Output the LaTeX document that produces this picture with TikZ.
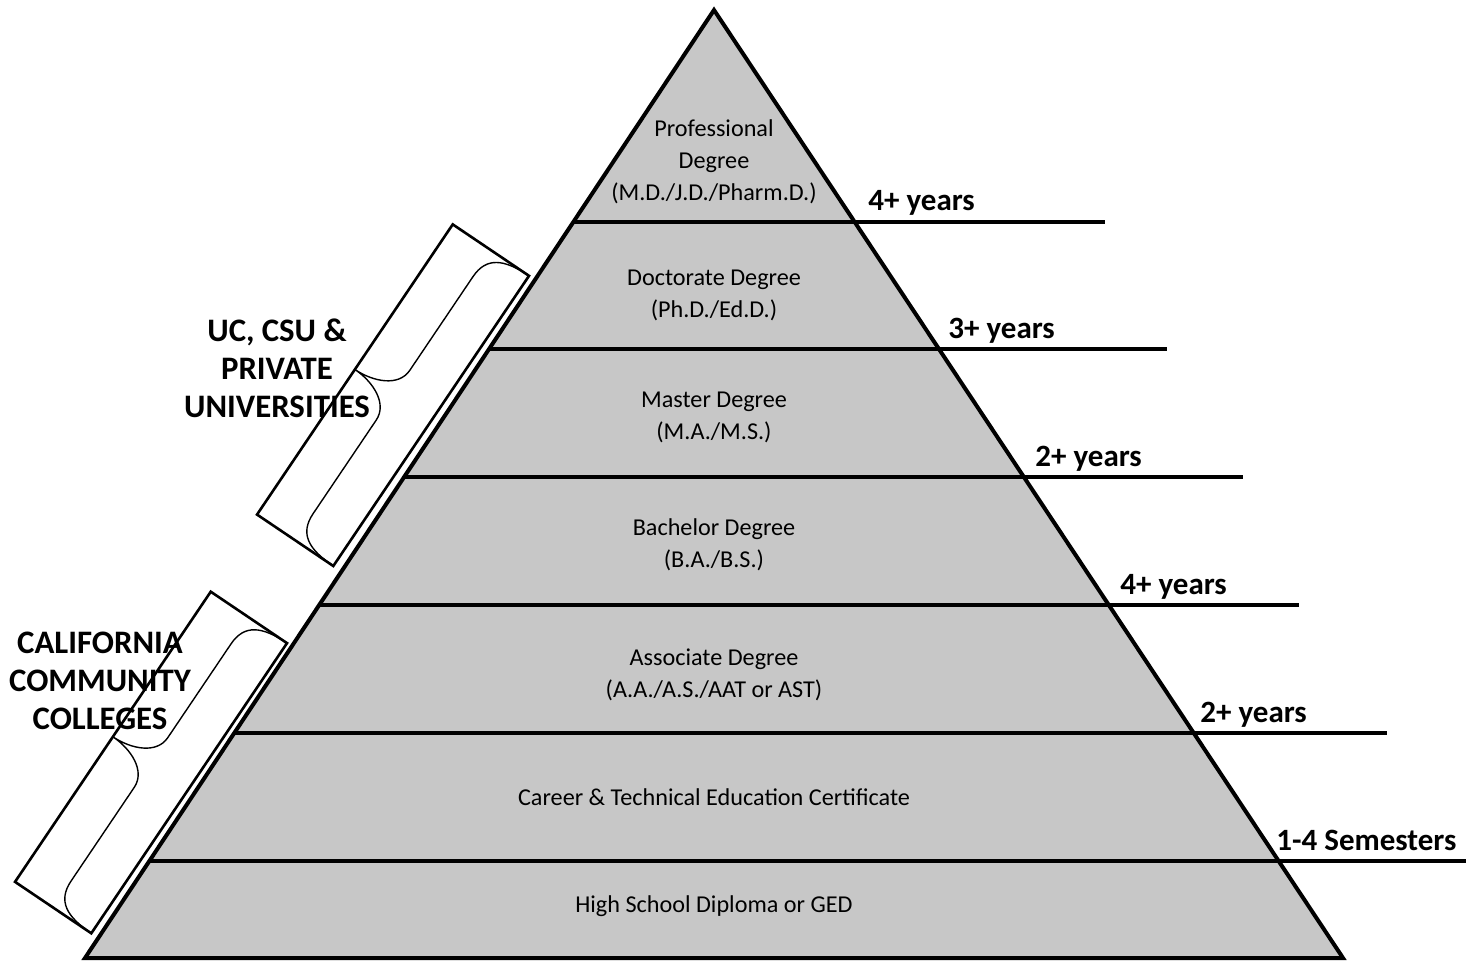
\documentclass[tikz,border=0pt]{standalone}
\usepackage{fontspec}
\setmainfont{Carlito}

\begin{document}
\begin{tikzpicture}[x=0.5pt,y=-0.5pt,
  level/.style={font=\fontsize{12.1}{16}\selectfont, align=center},
  years/.style={font=\fontsize{15.5}{18}\selectfont\bfseries, anchor=base west, inner sep=0pt},
  side/.style={font=\fontsize{16.4}{19}\selectfont\bfseries, align=center},
  bracebox/.style={draw=black, line width=1.3pt},
  curly/.style={line width=0.7pt}]
 \path[use as bounding box] (0,0) rectangle (1479,963);
\filldraw[fill=black!22, draw=black, line width=2pt] (714,10) -- (85,958) -- (1343,958) -- cycle;

% steps of the pyramid, running out to the right
\foreach \y/\r in {222/1105, 349/1167, 477/1243, 605/1299, 733/1387, 861/1466}
	\draw[line width=1.8pt] ({714-0.6635*(\y-10)},\y) -- (\r,\y);

\node[level] (prof) at (714,162) {Professional\\Degree\\(M.D./J.D./Pharm.D.)};
\node[level] (doct) at (714,295) {Doctorate Degree\\(Ph.D./Ed.D.)};
\node[level] (mast) at (714,417) {Master Degree\\(M.A./M.S.)};
\node[level] (bach) at (714,545) {Bachelor Degree\\(B.A./B.S.)};
\node[level] (asso) at (714,675) {Associate Degree\\(A.A./A.S./AAT or AST)};
\node[level] (care) at (714,797) {Career \& Technical Education Certificate};
\node[level] (high) at (714,906) {High School Diploma or GED};

\node[years] (y1) at (868,211) {4+ years};
\node[years] (y2) at (948,338) {3+ years};
\node[years] (y3) at (1035,466) {2+ years};
\node[years] (y4) at (1120,594) {4+ years};
\node[years] (y5) at (1200,722) {2+ years};
\node[years] (y6) at (1276,850) {1-4 Semesters};

% tilted boxes with braces
\foreach \bx/\by in {333.3/566, 91.3/933.3}{
\begin{scope}[shift={(\bx,\by)}, rotate=56]
 \draw[bracebox] (0,0) -- (350,0) -- (350,-92) -- (0,-92) -- cycle;
 \draw[curly] (0,0) .. controls (0,-30) and (8,-46) .. (32,-46) -- (145,-46)
   .. controls (165,-46) and (175,-70) .. (175,-92)
   .. controls (175,-70) and (185,-46) .. (205,-46) -- (318,-46)
   .. controls (342,-46) and (350,-30) .. (350,0);
\end{scope}}

\node[side] (uni) at (277,368) {UC, CSU \&\\PRIVATE\\UNIVERSITIES};
\node[side] (ccc) at (100,681) {CALIFORNIA\\COMMUNITY\\COLLEGES};

\end{tikzpicture}
\end{document}
